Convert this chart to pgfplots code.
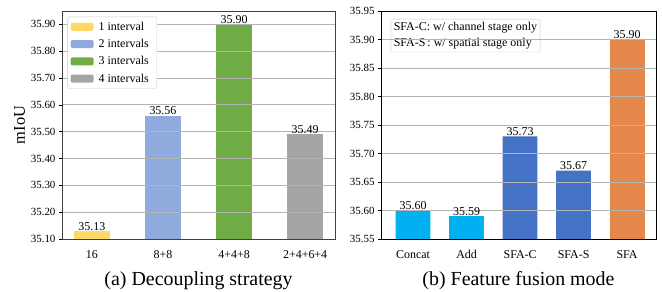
\documentclass[border=0pt]{standalone}
\usepackage{pgfplots}
\pgfplotsset{compat=1.18}
\usepackage{fontspec}
\setmainfont{Liberation Serif}
\definecolor{cyel}{HTML}{FFD966}
\definecolor{cblu}{HTML}{8FAADC}
\definecolor{cgrn}{HTML}{70AD47}
\definecolor{cgry}{HTML}{A5A5A5}
\definecolor{ccyan}{HTML}{00B0F0}
\definecolor{cdblue}{HTML}{4472C4}
\definecolor{corange}{HTML}{E3884A}
\definecolor{gridc}{HTML}{B4B4B4}
\begin{document}
\begin{tikzpicture}
\useasboundingbox (-62bp,-53bp) rectangle (600bp,239bp);
\pgfplotsset{
  common/.style={
    scale only axis,
    axis on top,
    /pgf/number format/assume math mode=true,
    ybar, bar shift=0pt,
    ymajorgrids, grid style={gridc, line width=0.9bp},
    xtick style={draw=none},
    ytick align=outside, ytick pos=left,
    ytick style={black, line width=0.6bp},
    major tick length=3bp,
    tick label style={font=\fontsize{11}{12}\selectfont},
    xticklabel style={font=\fontsize{12}{13}\selectfont, yshift=-5bp},
    xlabel style={font=\fontsize{20}{22}\selectfont, yshift=-6bp},
    nodes near coords,
    nodes near coords style={font=\fontsize{12}{13}\selectfont, inner sep=0.5bp, /pgf/number format/.cd, fixed, fixed zerofill, precision=2},
  }
}
\begin{axis}[common,
  at={(0bp,0bp)}, anchor=south west,
  width=273bp, height=228bp,
  xmin=-0.42, xmax=3.42,
  ymin=35.10, ymax=35.95,
  ytick={35.10,35.20,...,35.91},
  yticklabel style={/pgf/number format/.cd, fixed, fixed zerofill, precision=2},
  xtick={0,1,2,3},
  xticklabels={16,8+8,4+4+8,2+4+6+4},
  bar width=0.5,
  ylabel={mIoU},
  ylabel style={font=\fontsize{16.5}{18}\selectfont, yshift=-1bp},
  xlabel={(a) Decoupling strategy},
  axis line style={black!75, line width=0.7bp},
  legend style={at={(0.02,0.975)}, anchor=north west, draw=gridc!70, rounded corners=2bp,
     font=\fontsize{12}{13}\selectfont, row sep=3.5bp, inner sep=3bp,
     nodes={inner xsep=5bp}},
  legend image code/.code={\fill[#1] (0bp,-4bp) rectangle (23bp,4bp);},
  legend cell align=left,
]
\addplot[fill=cyel, draw=none] coordinates {(0,35.13)};
\addplot[fill=cblu, draw=none] coordinates {(1,35.56)};
\addplot[fill=cgrn, draw=none] coordinates {(2,35.90)};
\addplot[fill=cgry, draw=none] coordinates {(3,35.49)};
\legend{1 interval,2 intervals,3 intervals,4 intervals}
\end{axis}
\begin{axis}[common,
  at={(319bp,0bp)}, anchor=south west,
  width=275bp, height=228bp,
  xmin=-0.6, xmax=4.54,
  ymin=35.55, ymax=35.95,
  ytick={35.55,35.60,...,35.96},
  yticklabel style={/pgf/number format/.cd, fixed, fixed zerofill, precision=2},
  xtick={0,1,2,3,4},
  xticklabels={Concat,Add,SFA-C,SFA-S,SFA},
  bar width=0.65,
  xlabel={(b) Feature fusion mode},
  axis line style={black, line width=0.7bp},
]
\addplot[fill=ccyan, draw=none] coordinates {(0,35.60) (1,35.59)};
\addplot[fill=cdblue, draw=none] coordinates {(2,35.73) (3,35.67)};
\addplot[fill=corange, draw=none] coordinates {(4,35.90)};
\node[anchor=north west, draw=gridc!70, rounded corners=2bp, fill=white, align=left,
  font=\fontsize{12}{16}\selectfont, inner sep=3bp] at (rel axis cs:0.035,0.965)
  {SFA-C: w/ channel stage only\\SFA-S\,: w/ spatial stage only};
\end{axis}
\end{tikzpicture}
\end{document}
